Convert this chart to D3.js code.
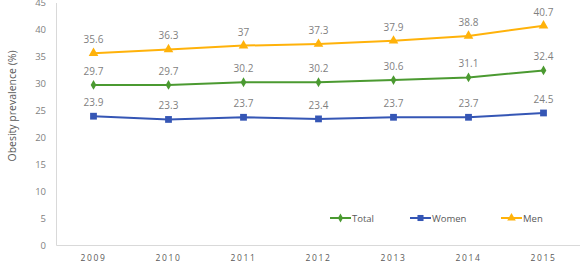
<!DOCTYPE html>
<html>
<head>
<meta charset="utf-8">
<script src="https://cdn.jsdelivr.net/npm/d3@7"></script>
<style>
  body { margin: 0; background: #fff; }
  svg text { font-family: "Open Sans", "Noto Sans", sans-serif; }
</style>
</head>
<body>
<svg id="mainSvg" width="580" height="268"></svg>
<script>
var years = ["2009", "2010", "2011", "2012", "2013", "2014", "2015"];
var totalValues = [29.7, 29.7, 30.2, 30.2, 30.6, 31.1, 32.4];
var womenValues = [23.9, 23.3, 23.7, 23.4, 23.7, 23.7, 24.5];
var menValues = [35.6, 36.3, 37, 37.3, 37.9, 38.8, 40.7];
var yTicks = [0, 5, 10, 15, 20, 25, 30, 35, 40, 45];

var series = [
  { name: "Total", values: totalValues, color: "#4b9a31", shape: d3.symbolDiamond, size: 28 },
  { name: "Women", values: womenValues, color: "#3556b5", shape: d3.symbolSquare, size: 46 },
  { name: "Men", values: menValues, color: "#ffb20a", shape: d3.symbolTriangle, size: 40 }
];

var svg = d3.select("#mainSvg");

var x = d3.scaleBand()
  .domain(years)
  .range([56, 581]);

var y = d3.scaleLinear()
  .domain([0, 45])
  .range([245, 2.5]);

// y axis
var yAxis = svg.append("g")
  .attr("transform", "translate(56,0)")
  .call(d3.axisLeft(y).tickValues(yTicks).tickSize(0).tickPadding(10));
yAxis.select(".domain").attr("stroke", "#d9d9d9");
yAxis.selectAll("text")
  .attr("fill", "#7f7f7f")
  .style("font-size", "9.5px");

// x axis
var xAxis = svg.append("g")
  .attr("transform", "translate(0,245)")
  .call(d3.axisBottom(x).tickSize(0).tickPadding(10));
xAxis.select(".domain").attr("stroke", "#d9d9d9");
xAxis.selectAll("text")
  .attr("fill", "#595959")
  .style("font-size", "8.5px")
  .style("letter-spacing", "1.6px");

// axis title
svg.append("text")
  .attr("transform", "translate(16,106) rotate(-90)")
  .style("text-anchor", "middle")
  .style("font-size", "10.5px")
  .attr("fill", "#595959")
  .text("Obesity prevalence (%)");

var line = d3.line()
  .x(function(d, i) { return x(years[i]) + x.bandwidth() / 2; })
  .y(function(d) { return y(d); });

series.forEach(function(s) {
  var g = svg.append("g");
  g.append("path")
    .attr("d", line(s.values))
    .attr("fill", "none")
    .attr("stroke", s.color)
    .attr("stroke-width", 2);

  g.selectAll(".marker")
    .data(s.values)
    .enter().append("path")
    .attr("transform", function(d, i) {
      return "translate(" + (x(years[i]) + x.bandwidth() / 2) + "," + y(d) + ")";
    })
    .attr("d", d3.symbol().type(s.shape).size(s.size))
    .attr("fill", s.color);

  g.selectAll(".lbl")
    .data(s.values)
    .enter().append("text")
    .attr("x", function(d, i) { return x(years[i]) + x.bandwidth() / 2; })
    .attr("y", function(d) { return y(d) - 10; })
    .style("text-anchor", "middle")
    .style("font-size", "10px")
    .attr("fill", "#7f7f7f")
    .text(function(d) { return d; });
});

// legend
var legendX = [330, 410, 501];
series.forEach(function(s, i) {
  var lg = svg.append("g").attr("transform", "translate(" + legendX[i] + ",218)");
  lg.append("line")
    .attr("x1", 0).attr("x2", 21)
    .attr("stroke", s.color)
    .attr("stroke-width", 2);
  lg.append("path")
    .attr("transform", "translate(10.5,0)")
    .attr("d", d3.symbol().type(s.shape).size(s.size * 0.8))
    .attr("fill", s.color);
  lg.append("text")
    .attr("x", 22)
    .attr("y", 3.5)
    .style("font-size", "9.5px")
    .attr("fill", "#595959")
    .text(s.name);
});
</script>
</body>
</html>
